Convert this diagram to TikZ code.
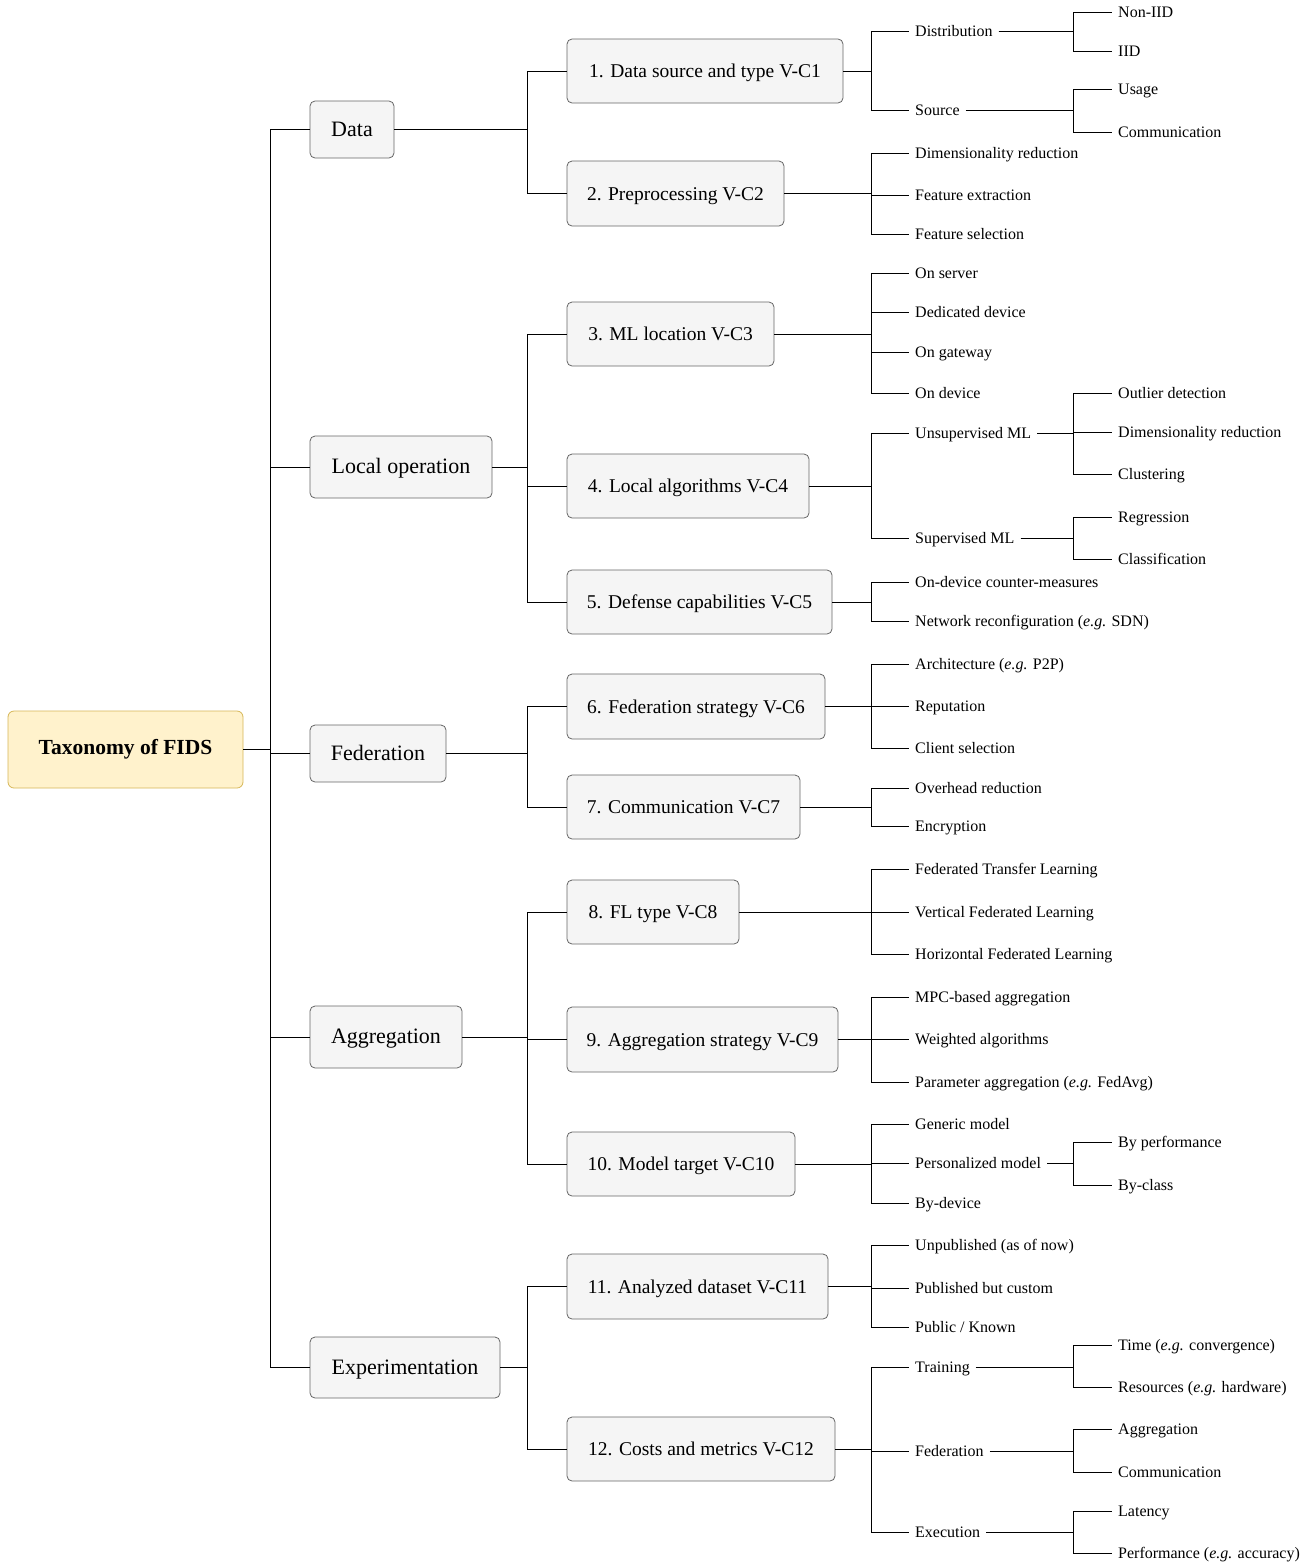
\documentclass[tikz,border=0pt]{standalone}
\usepackage{fontspec}
\setmainfont{Liberation Serif}
\definecolor{boxfill}{HTML}{F5F5F5}
\definecolor{boxline}{HTML}{666666}
\definecolor{rootfill}{HTML}{FFF2CC}
\definecolor{rootline}{HTML}{D6B656}
\tikzset{
  conn/.style={line width=1pt, black},
  box/.style={draw=boxline, fill=boxfill, rounded corners=5pt, line width=0.8pt, inner sep=0pt, text height=15pt, text depth=1.5pt, font=\fontsize{19.5}{22}\selectfont},
  catbox/.style={box, text height=16pt, text depth=3pt, font=\fontsize{22}{26}\selectfont},
  rootbox/.style={draw=rootline, fill=rootfill, rounded corners=6pt, line width=0.8pt, inner sep=0pt, font=\fontsize{21.5}{25}\selectfont\bfseries},
  leaf/.style={anchor=west, inner xsep=6pt, inner ysep=0pt, text height=13pt, text depth=1.5pt, font=\fontsize{16}{18}\selectfont},
}
\begin{document}
\begin{tikzpicture}[x=1pt, y=-1pt]
\useasboundingbox (0,0) rectangle (1310,1564);
\coordinate (t1) at (270,0);
\coordinate (t2) at (527,0);
\coordinate (t3) at (871,0);
\coordinate (t4) at (1073,0);

% root
\node[rootbox, minimum width=235pt, minimum height=77pt] (root) at (125.5,749.5) {Taxonomy of FIDS};

% categories
\node[catbox, minimum width=84pt, minimum height=57pt] (data) at (352,129.5) {Data};
\node[catbox, minimum width=182pt, minimum height=62pt] (local) at (401,467) {Local operation};
\node[catbox, minimum width=136pt, minimum height=57pt] (fed) at (378,753.5) {Federation};
\node[catbox, minimum width=152pt, minimum height=62pt] (agg) at (386,1037) {Aggregation};
\node[catbox, minimum width=190pt, minimum height=61pt] (exp) at (405,1367.5) {Experimentation};

% level 2
\node[box, minimum width=276pt, minimum height=64pt] (c1) at (705,71) {1. Data source and type V-C1};
\node[box, minimum width=217pt, minimum height=65pt] (c2) at (675.5,193.5) {2. Preprocessing V-C2};
\node[box, minimum width=207pt, minimum height=64pt] (c3) at (670.5,334) {3. ML location V-C3};
\node[box, minimum width=242pt, minimum height=64pt] (c4) at (688,486) {4. Local algorithms V-C4};
\node[box, minimum width=265pt, minimum height=64pt] (c5) at (699.5,602) {5. Defense capabilities V-C5};
\node[box, minimum width=258pt, minimum height=65pt] (c6) at (696,706.5) {6. Federation strategy V-C6};
\node[box, minimum width=233pt, minimum height=64pt] (c7) at (683.5,807) {7. Communication V-C7};
\node[box, minimum width=172pt, minimum height=64pt] (c8) at (653,912) {8. FL type V-C8};
\node[box, minimum width=271pt, minimum height=65pt] (c9) at (702.5,1039.5) {9. Aggregation strategy V-C9};
\node[box, minimum width=228pt, minimum height=64pt] (c10) at (681,1164) {10. Model target V-C10};
\node[box, minimum width=261pt, minimum height=65pt] (c11) at (697.5,1286.5) {11. Analyzed dataset V-C11};
\node[box, minimum width=268pt, minimum height=64pt] (c12) at (701,1449) {12. Costs and metrics V-C12};

% level 3 leaves
\node[leaf] (distr) at (909,31) {Distribution};
\node[leaf] (source) at (909,110) {Source};
\node[leaf] (dimred) at (909,153) {Dimensionality reduction};
\node[leaf] (featext) at (909,195) {Feature extraction};
\node[leaf] (featsel) at (909,234) {Feature selection};
\node[leaf] (onserver) at (909,273) {On server};
\node[leaf] (dedicated) at (909,312) {Dedicated device};
\node[leaf] (ongateway) at (909,352) {On gateway};
\node[leaf] (ondevice) at (909,393) {On device};
\node[leaf] (unsup) at (909,433) {Unsupervised ML};
\node[leaf] (sup) at (909,538) {Supervised ML};
\node[leaf] (ondevcm) at (909,582) {On-device counter-measures};
\node[leaf] (netreconf) at (909,621) {Network reconfiguration (\emph{e.g.} SDN)};
\node[leaf] (arch) at (909,664) {Architecture (\emph{e.g.} P2P)};
\node[leaf] (reput) at (909,706) {Reputation};
\node[leaf] (clientsel) at (909,748) {Client selection};
\node[leaf] (overhead) at (909,788) {Overhead reduction};
\node[leaf] (encrypt) at (909,826) {Encryption};
\node[leaf] (ftl) at (909,869) {Federated Transfer Learning};
\node[leaf] (vfl) at (909,912) {Vertical Federated Learning};
\node[leaf] (hfl) at (909,954) {Horizontal Federated Learning};
\node[leaf] (mpc) at (909,997) {MPC-based aggregation};
\node[leaf] (weighted) at (909,1039) {Weighted algorithms};
\node[leaf] (paramagg) at (909,1082) {Parameter aggregation (\emph{e.g.} FedAvg)};
\node[leaf] (generic) at (909,1124) {Generic model};
\node[leaf] (personal) at (909,1163) {Personalized model};
\node[leaf] (bydevice) at (909,1203) {By-device};
\node[leaf] (unpub) at (909,1245) {Unpublished (as of now)};
\node[leaf] (pubcustom) at (909,1288) {Published but custom};
\node[leaf] (public) at (909,1327) {Public / Known};
\node[leaf] (training) at (909,1367) {Training};
\node[leaf] (fedcost) at (909,1451) {Federation};
\node[leaf] (execution) at (909,1532) {Execution};

% level 4 leaves
\node[leaf] (noniid) at (1112,12) {Non-IID};
\node[leaf] (iid) at (1112,51) {IID};
\node[leaf] (usage) at (1112,89) {Usage};
\node[leaf] (commsrc) at (1112,132) {Communication};
\node[leaf] (outlier) at (1112,393) {Outlier detection};
\node[leaf] (dimred2) at (1112,432) {Dimensionality reduction};
\node[leaf] (clustering) at (1112,474) {Clustering};
\node[leaf] (regression) at (1112,517) {Regression};
\node[leaf] (classif) at (1112,559) {Classification};
\node[leaf] (byperf) at (1112,1142) {By performance};
\node[leaf] (byclass) at (1112,1185) {By-class};
\node[leaf] (time) at (1112,1345) {Time (\emph{e.g.} convergence)};
\node[leaf] (resources) at (1112,1387) {Resources (\emph{e.g.} hardware)};
\node[leaf] (aggcost) at (1112,1429) {Aggregation};
\node[leaf] (commcost) at (1112,1472) {Communication};
\node[leaf] (latency) at (1112,1511) {Latency};
\node[leaf] (perf) at (1112,1553) {Performance (\emph{e.g.} accuracy)};

% connectors: root -> categories
\foreach \c in {data,local,fed,agg,exp}
  \draw[conn] (root.east) -- (root.east -| t1) |- (\c.west);

% categories -> level 2
\foreach \p/\c in {data/c1,data/c2,local/c3,local/c4,local/c5,fed/c6,fed/c7,agg/c8,agg/c9,agg/c10,exp/c11,exp/c12}
  \draw[conn] (\p.east) -- (\p.east -| t2) |- (\c.west);

% level 2 -> level 3
\foreach \p/\c in {c1/distr,c1/source,c2/dimred,c2/featext,c2/featsel,
  c3/onserver,c3/dedicated,c3/ongateway,c3/ondevice,c4/unsup,c4/sup,
  c5/ondevcm,c5/netreconf,c6/arch,c6/reput,c6/clientsel,c7/overhead,c7/encrypt,
  c8/ftl,c8/vfl,c8/hfl,c9/mpc,c9/weighted,c9/paramagg,c10/generic,c10/personal,c10/bydevice,
  c11/unpub,c11/pubcustom,c11/public,c12/training,c12/fedcost,c12/execution}
  \draw[conn] (\p.east) -- (\p.east -| t3) |- (\c.west);

% level 3 -> level 4
\foreach \p/\c in {distr/noniid,distr/iid,source/usage,source/commsrc,
  unsup/outlier,unsup/dimred2,unsup/clustering,sup/regression,sup/classif,
  personal/byperf,personal/byclass,training/time,training/resources,
  fedcost/aggcost,fedcost/commcost,execution/latency,execution/perf}
  \draw[conn] (\p.east) -- (\p.east -| t4) |- (\c.west);
\end{tikzpicture}
\end{document}
